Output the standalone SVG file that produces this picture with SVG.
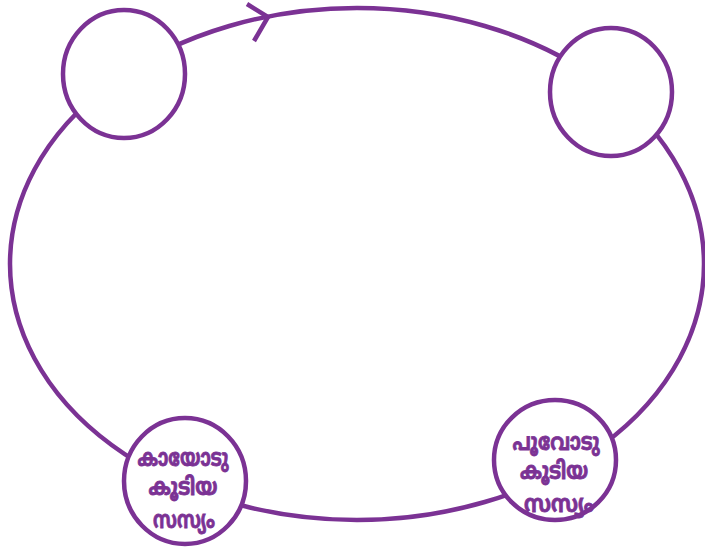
<svg xmlns="http://www.w3.org/2000/svg" width="705" height="549" viewBox="0 0 705 549">
<style>
.ln{fill:none;stroke:#7B3294;stroke-width:4.5;stroke-linecap:butt;stroke-linejoin:miter}
.nd{fill:#fff;stroke:#7B3294;stroke-width:4.5}
.tx{font-family:"Noto Sans Malayalam","Noto Sans","DejaVu Sans",sans-serif;font-weight:bold;font-size:24px;fill:#7B3294;stroke:#7B3294;stroke-width:0.8;text-anchor:middle}
</style>
<rect width="705" height="549" fill="#fff"/>
<g id="connectors">
<ellipse class="ln" cx="357" cy="264" rx="347" ry="256"/>
<polyline class="ln" points="247,4 268,17 254,41"/>
</g>
<g id="node-top-left"><ellipse class="nd" cx="124" cy="74" rx="61" ry="64"/></g>
<g id="node-top-right"><ellipse class="nd" cx="611" cy="92" rx="61" ry="64"/></g>
<g id="node-bottom-left">
<ellipse class="nd" cx="185" cy="481" rx="61" ry="63"/>
<text class="tx" x="183" y="466" textLength="91" lengthAdjust="spacingAndGlyphs">കായോടു</text>
<text class="tx" x="183" y="495" textLength="69" lengthAdjust="spacingAndGlyphs">കൂടിയ</text>
<text class="tx" x="184" y="528" textLength="62" lengthAdjust="spacingAndGlyphs">സസ്യം</text>
</g>
<g id="node-bottom-right">
<ellipse class="nd" cx="555" cy="460" rx="61" ry="60"/>
<text class="tx" x="556" y="450" textLength="87" lengthAdjust="spacingAndGlyphs">പൂവോടു</text>
<text class="tx" x="554" y="479" textLength="68" lengthAdjust="spacingAndGlyphs">കൂടിയ</text>
<text class="tx" x="559" y="512" textLength="70" lengthAdjust="spacingAndGlyphs">സസ്യം</text>
</g>
</svg>
